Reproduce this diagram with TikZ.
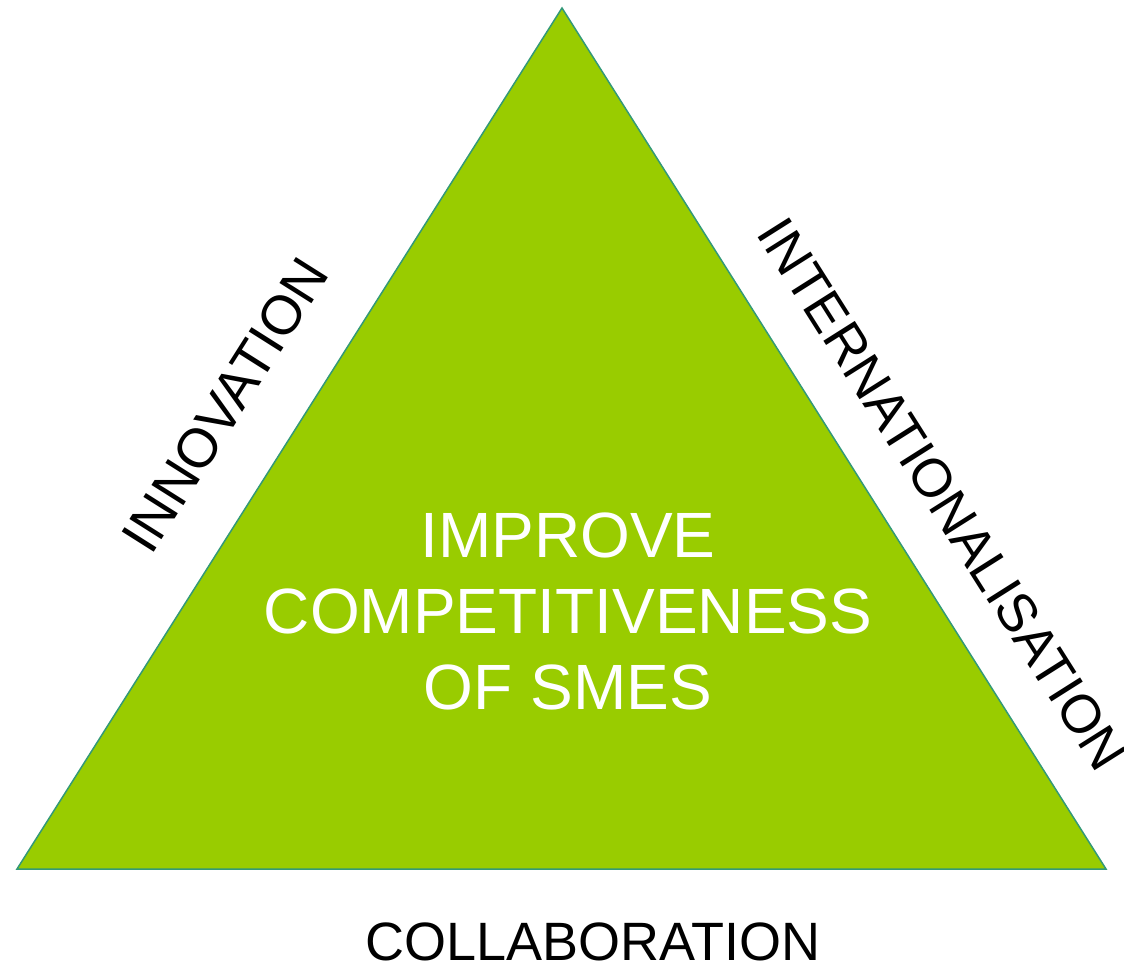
\documentclass[tikz,border=0pt]{standalone}
\usepackage{fontspec}
\setmainfont{Liberation Sans}
\definecolor{trifill}{HTML}{99CC00}
\definecolor{triedge}{HTML}{339977}
\begin{document}
\begin{tikzpicture}[x=1pt,y=-1pt,
  side/.style={font=\fontsize{55}{60}\selectfont, text=black, inner sep=0pt},
  centre/.style={font=\fontsize{64}{76}\selectfont, text=white, align=center, inner sep=0pt}]
\useasboundingbox (0,0) rectangle (1124,964);
\coordinate (apex) at (562,8);
\coordinate (bl) at (17,869);
\coordinate (br) at (1106,869);
\filldraw[fill=trifill, draw=triedge, line width=1.5pt, line join=miter] (apex) -- (br) -- (bl) -- cycle;
\node[centre, anchor=base] (goal) at (568,709) {IMPROVE\\COMPETITIVENESS\\OF SMES};
\node[font=\fontsize{54}{60}\selectfont, anchor=base, inner sep=0pt] (collab) at (593,960) {COLLABORATION};
\node[side, rotate=57.7] (innov) at (225,405) {INNOVATION};
\node[side, font=\fontsize{54}{60}\selectfont, rotate=-57.7] (intl) at (942,494) {INTERNATIONALISATION};
\end{tikzpicture}
\end{document}
